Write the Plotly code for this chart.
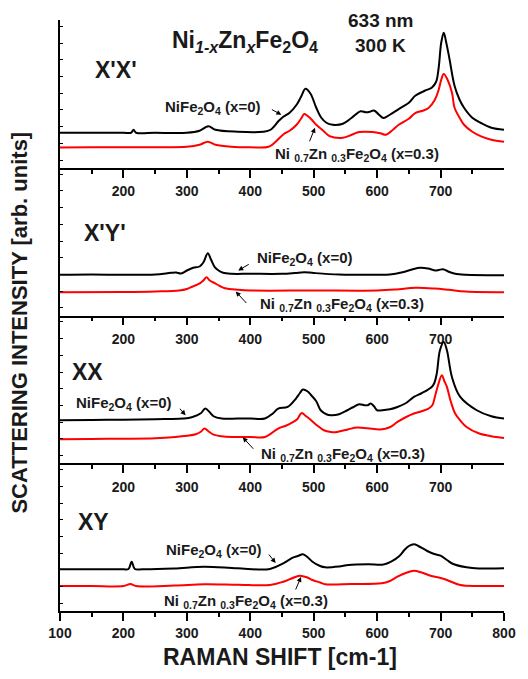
import plotly.graph_objects as go

# ---------------- data (Raman shift in cm-1, intensity in arb. units) ----------------
xpxp_ni_x = [100,150,200,212,216,220,250,300,320,334,345,380,420,432,445,452,462,473,480,487,495,504,512,520,530,546,560,574,582,587,595,603,610,620,634,650,660,675,686,693,697,701,705,709,714,722,730,737,750,763,780,800]
xpxp_ni_y = [35,35,35,35,38,35,35,35,37,41.5,38,36,36,38,47,51,55,63,71,79,74,60,50,45,43,44,50,56.5,55.5,55.7,57.3,53,49.7,53,58.7,65,72,77,80,86,100,125,135,125,109,82,68,60,50,45,40,38]
xpxp_zn_x = [100,150,200,250,300,320,333,345,370,400,429,440,452,462,473,480,485,490,497,504,515,525,546,560,572,593,605,614,625,634,650,660,672,681,691,697,701,705,711,718,722,730,737,750,763,780,800]
xpxp_zn_y = [20.3,20.5,20.5,20.5,21,23,26,23,21,20.5,21,26,33.3,37,43,49,53.7,52,48,43,37,31.7,30,33,35.7,35.7,34.5,33,38,43,49,54.7,57,59.7,68,78,88,93.7,88,75,60,50,43,36,31.7,28,26]

xpyp_ni_x = [100,150,200,250,275,283,291,300,310,320,326,333,338,344,350,357,370,400,450,470,485,500,540,600,620,640,655,668,680,692,697,704,712,723,740,800]
xpyp_ni_y = [40.7,41,40.7,41,42.7,43,42,45,47.7,49,53,62.3,56,48.3,45,42.7,41.7,41.7,41.7,42.5,43.3,42.5,41,40.7,41,43.3,46,47.7,47,45,45.5,46.3,44,41.7,40.7,40.3]
xpyp_zn_x = [100,200,250,288,300,309,321,326,331,336,344,352,360,381,400,500,600,630,661,690,713,740,800]
xpyp_zn_y = [23.3,23.5,24,25,26.5,29,32.3,35,38.3,35,32.3,29.5,27.3,25.7,25,25,25,26,27.7,27,25.7,24,23.3]

xx_ni_x = [100,150,200,250,300,309,322,329,336,342,355,380,400,423,436,444,459,472,478,483,490,496,504,511,520,527,540,553,562,572,580,585,590,595,600,608,620,632,645,658,670,686,690,694,699,705,710,718,731,757,780,800]
xx_ni_y = [43,43.3,43.5,44,45,46.3,50,54.7,51,47,44.7,44.7,44.7,44.7,50,54.7,56.3,64.7,70,73.7,72,68,62,53,49,48,49,53,56,59,58,58,59.7,57,53,53,54,56.3,60,66.3,70,76.3,80,89.7,113,121.3,113,86,66.3,53,47,44.7]
xx_zn_x = [100,150,200,250,282,300,314,322,328,334,342,355,371,400,423,444,456,465,474,481,488,496,505,516,527,537,555,568,585,605,620,632,645,658,670,681,687,691,696,702,706,710,716,723,732,741,760,780,800]
xx_zn_y = [24,24.3,24.5,25,26.3,27.5,29,31.5,34.7,32,28.7,27,26.3,26.3,26.3,34.7,37.5,40.3,44,50.3,47,43,38,33,31.3,31.3,34,35.7,35,33.7,36,41.3,46,49.7,52,54.7,58,66.3,78,88,82,76.3,62,49.7,42,36.3,30,27,25.3]

xy_ni_x = [100,150,200,208,213,218,230,280,327,380,431,452,467,475,483,490,498,510,518,540,555,586,610,622,635,643,650,658,665,679,690,700,710,721,750,800]
xy_ni_y = [41.7,41.7,41.7,42,49.3,42,41.7,42.5,44.3,42.7,42,47.7,53.3,55,56.7,54,49.3,45,43.7,44.5,46,46.7,46.5,49.3,55,61,65,66.7,65,60,57,55.3,51,46.7,43,42.7]
xy_zn_x = [100,150,200,211,220,280,327,380,431,452,465,478,490,498,510,518,560,607,620,632,645,658,670,684,700,710,731,760,800]
xy_zn_y = [25,25,25,27,25,25.5,26.7,26.3,26,29.3,32.5,35.3,33.5,31,28.5,26.7,27,27.7,30,34.3,38,40.3,38.5,35.3,33,31,26,25,25]

panel_labels = ["X'X'", "X'Y'", "XX", "XY"]
inner_ticks = [200, 300, 400, 500, 600, 700]
bottom_ticks = [100, 200, 300, 400, 500, 600, 700, 800]
minor_ticks = [150, 250, 350, 450, 550, 650, 750]

# ---------------- layout geometry ----------------
W, H = 528, 679
L, R, T, B = 60, 18, 20, 68
PW, PH = W - L - R, H - T - B
FONT = "Liberation Sans, Arial, sans-serif"


def px(xp):
    return (xp - L) / PW


def py(yp):
    return (H - B - yp) / PH


panels = [
    (xpxp_ni_x, xpxp_ni_y, xpxp_zn_x, xpxp_zn_y),
    (xpyp_ni_x, xpyp_ni_y, xpyp_zn_x, xpyp_zn_y),
    (xx_ni_x, xx_ni_y, xx_zn_x, xx_zn_y),
    (xy_ni_x, xy_ni_y, xy_zn_x, xy_zn_y),
]

fig = go.Figure()
ph = 1.0 / 4
YMAX = PH / 4
for i, (bx, by, rx, ry) in enumerate(panels):
    k = i + 1
    xa = "x" if k == 1 else f"x{k}"
    ya = "y" if k == 1 else f"y{k}"
    fig.add_trace(go.Scatter(x=rx, y=ry, mode="lines", line=dict(color="#ff0000", width=2),
                             xaxis=xa, yaxis=ya, showlegend=False, line_shape="spline"))
    fig.add_trace(go.Scatter(x=bx, y=by, mode="lines", line=dict(color="#000000", width=2),
                             xaxis=xa, yaxis=ya, showlegend=False, line_shape="spline"))
    d0 = 1 - (i + 1) * ph
    d1 = 1 - i * ph
    last = (k == 4)
    tv = bottom_ticks if last else inner_ticks
    xaxis = dict(domain=[0, 1], anchor=ya, range=[100, 800], showline=True, linecolor="black",
                 linewidth=1.5, ticks="outside", ticklen=8, tickwidth=1.5, tickcolor="black",
                 tickmode="array", tickvals=tv, ticktext=[str(v) for v in tv],
                 tickfont=dict(family=FONT, size=14, color="#1a1a1a", weight="bold"),
                 showgrid=False, zeroline=False, ticklabelstandoff=(0 if last else 2),
                 minor=dict(tickmode="array", tickvals=minor_ticks, ticks="outside", ticklen=4,
                            tickwidth=1.5, tickcolor="black", showgrid=False))
    yaxis = dict(domain=[d0, d1], anchor=xa, range=[0, YMAX], showline=True, linecolor="black",
                 linewidth=1.5, ticks="inside", ticklen=3, tickwidth=1, tickcolor="black",
                 tick0=7.7, dtick=16.7, showticklabels=False, showgrid=False, zeroline=False)
    fig.layout["xaxis" if k == 1 else f"xaxis{k}"] = xaxis
    fig.layout["yaxis" if k == 1 else f"yaxis{k}"] = yaxis

ann = []


def txt(text, xp, yp, size, **kw):
    ann.append(dict(text=text, x=px(xp), y=py(yp), xref="paper", yref="paper", showarrow=False,
                    xanchor="center", yanchor="middle",
                    font=dict(family=FONT, size=size, color="#1a1a1a", weight="bold"), **kw))


def arrow(k, xd, yd, ax, ay):
    xa = "x" if k == 1 else f"x{k}"
    ya = "y" if k == 1 else f"y{k}"
    ann.append(dict(text="", x=xd, y=yd, xref=xa, yref=ya, ax=ax, ay=ay, showarrow=True,
                    arrowhead=2, arrowsize=1, arrowwidth=1, arrowcolor="black"))


ni0 = "NiFe<sub>2</sub>O<sub>4</sub> (x=0)"
ni3 = "Ni <sub>0.7</sub>Zn <sub>0.3</sub>Fe<sub>2</sub>O<sub>4</sub> (x=0.3)"

txt("Ni<sub><i>1-x</i></sub>Zn<sub><i>x</i></sub>Fe<sub>2</sub>O<sub>4</sub>", 248, 42, 23)
txt("633 nm", 385, 20, 19)
txt("300 K", 385, 46, 19)

txt(panel_labels[0], 117, 70, 23)
txt(ni0, 215, 108, 15)
txt(ni3, 361, 154, 15)
arrow(1, 449, 53, -11, -6)
arrow(1, 502, 40, -6, 15)

txt(panel_labels[1], 106, 233, 23)
txt(ni0, 308, 258, 15)
txt(ni3, 346, 304, 15)
arrow(2, 381, 45, 12, -7)
arrow(2, 377, 24, 12, 13)

txt(panel_labels[2], 88, 372, 23)
txt(ni0, 124, 403, 15)
txt(ni3, 347, 454, 15)
arrow(3, 298, 48, -7, -8)
arrow(3, 388, 26, 12, 13)

txt(panel_labels[3], 94, 522, 23)
txt(ni0, 216, 550, 15)
txt(ni3, 249, 601, 15)
arrow(4, 440, 48, -8, -10)
arrow(4, 480, 34, -6, 14)

txt("SCATTERING INTENSITY [arb. units]", 18, 323, 22, textangle=-90)
txt("RAMAN SHIFT [cm-1]", 283, 657, 23)

fig.update_layout(width=W, height=H, margin=dict(l=L, r=R, t=T, b=B, pad=0),
                  paper_bgcolor="white", plot_bgcolor="white", annotations=ann,
                  font=dict(family=FONT))
fig.write_html("out.html")
